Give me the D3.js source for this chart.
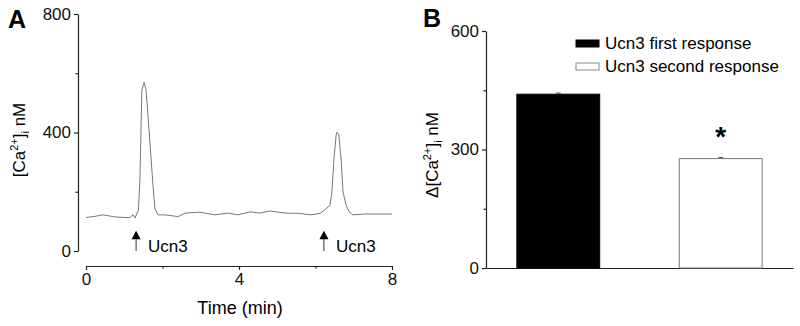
<!DOCTYPE html>
<html lang="en">
<head>
<meta charset="UTF-8">
<title>Ucn3 calcium responses</title>
<script src="https://d3js.org/d3.v7.min.js"></script>
<style>
  body { margin: 0; background: #fff; }
  svg { display: block; font-family: Arial, "Liberation Sans", sans-serif; }
  .axis path, .axis line { stroke: #222; stroke-width: 1.2; }
  .axis text { font-size: 17px; fill: #111; }
</style>
</head>
<body>
<svg id="chart" width="800" height="326"></svg>
<script>
// ---- data, panel A (trace) ----
const traceTime = [0, 0.24, 0.44, 0.76, 1.02, 1.15, 1.23, 1.28, 1.37, 1.41, 1.46, 1.52, 1.57, 1.62, 1.67, 1.75, 1.80, 1.88,
  2.07, 2.41, 2.59, 2.98, 3.37, 3.71, 3.97, 4.29, 4.55, 4.81, 5.20, 5.59, 5.88, 6.12, 6.27, 6.38, 6.43, 6.48, 6.54, 6.56,
  6.61, 6.67, 6.72, 6.80, 6.88, 6.98, 7.29, 7.69, 8.0];
const traceCa = [113, 117, 122, 115, 113, 113, 122, 111, 138, 240, 543, 569, 543, 459, 368, 223, 145, 122,
  122, 116, 128, 131, 122, 128, 122, 132, 128, 135, 128, 127, 122, 127, 142, 155, 199, 307, 392, 401,
  392, 307, 199, 155, 132, 122, 125, 125, 125];
const stimTimes = [1.31, 6.22];
const stimLabels = ["Ucn3", "Ucn3"];
const aYTicks = [0, 400, 800];
const aYMinor = [200, 600];
const aXTicks = [0, 4, 8];
const aXMinor = [2, 6];

// ---- data, panel B (bars) ----
const groups = ["Ucn3 first response", "Ucn3 second response"];
const means = [440, 277];
const sems = [3, 3];
const barFills = ["#000", "#fff"];
const bYTicks = [0, 300, 600];
const bYMinor = [150, 450];

const svg = d3.select("#chart");

// ================= Panel A =================
const xA = d3.scaleLinear().domain([0, 8]).range([86, 392]);
const yA = d3.scaleLinear().domain([0, 800]).range([251, 14]);

svg.append("g").attr("class", "axis")
  .attr("transform", "translate(78,0)")
  .call(d3.axisLeft(yA).tickValues(aYTicks).tickSize(4).tickPadding(3).tickSizeOuter(0));
svg.append("g").attr("class", "axis")
  .attr("transform", "translate(78,0)")
  .call(d3.axisLeft(yA).tickValues(aYMinor).tickSize(2.5).tickFormat("").tickSizeOuter(0))
  .select(".domain").remove();

svg.append("g").attr("class", "axis")
  .attr("transform", "translate(0,266)")
  .call(d3.axisBottom(xA).tickValues(aXTicks).tickSize(4).tickPadding(3).tickSizeOuter(0));
svg.append("g").attr("class", "axis")
  .attr("transform", "translate(0,266)")
  .call(d3.axisBottom(xA).tickValues(aXMinor).tickSize(2.5).tickFormat("").tickSizeOuter(0))
  .select(".domain").remove();

svg.append("text")
  .attr("x", 240).attr("y", 314)
  .attr("text-anchor", "middle")
  .attr("font-size", 18)
  .text("Time (min)");

// y label with super/subscripts
const yLabA = svg.append("text")
  .attr("transform", "translate(25,140) rotate(-90)")
  .attr("text-anchor", "middle")
  .attr("font-size", 17);
yLabA.append("tspan").text("[Ca");
yLabA.append("tspan").attr("dy", -7).attr("font-size", 11).text("2+");
yLabA.append("tspan").attr("dy", 7).text("]");
yLabA.append("tspan").attr("dy", 4).attr("font-size", 11).text("i");
yLabA.append("tspan").attr("dy", -4).text(" nM");

const trace = traceTime.map((t, i) => [t, traceCa[i]]);
svg.append("path")
  .datum(trace)
  .attr("fill", "none")
  .attr("stroke", "#777")
  .attr("stroke-width", 1)
  .attr("d", d3.line().x(d => xA(d[0])).y(d => yA(d[1])));

// stimulus arrows
stimTimes.forEach((t, i) => {
  const x = xA(t);
  svg.append("line")
    .attr("x1", x).attr("x2", x)
    .attr("y1", yA(0)).attr("y2", yA(40))
    .attr("stroke", "#333").attr("stroke-width", 1);
  svg.append("path")
    .attr("d", `M${x},${yA(68)} L${x - 4.5},${yA(40)} L${x + 4.5},${yA(40)} Z`)
    .attr("fill", "#000");
  svg.append("text")
    .attr("x", x + 12).attr("y", yA(0) + 1)
    .attr("font-size", 17)
    .text(stimLabels[i]);
});

svg.append("text")
  .attr("x", 8).attr("y", 28)
  .attr("font-size", 25).attr("font-weight", "bold")
  .text("A");

// ================= Panel B =================
const xB = d3.scaleBand().domain(groups).range([486, 793]).paddingInner(0.49).paddingOuter(0.19);
const yB = d3.scaleLinear().domain([0, 600]).range([268, 31]);

svg.append("g").attr("class", "axis")
  .attr("transform", "translate(486,0)")
  .call(d3.axisLeft(yB).tickValues(bYTicks).tickSize(4).tickPadding(3).tickSizeOuter(0));
svg.append("g").attr("class", "axis")
  .attr("transform", "translate(486,0)")
  .call(d3.axisLeft(yB).tickValues(bYMinor).tickSize(2.5).tickFormat("").tickSizeOuter(0))
  .select(".domain").remove();

svg.append("g").attr("class", "axis")
  .attr("transform", "translate(0,268)")
  .call(d3.axisBottom(xB).tickValues([]).tickSizeOuter(0));

svg.selectAll("rect.bar")
  .data(groups)
  .enter().append("rect")
  .attr("class", "bar")
  .attr("x", d => xB(d))
  .attr("y", (d, i) => yB(means[i]))
  .attr("width", xB.bandwidth())
  .attr("height", (d, i) => yB(0) - yB(means[i]))
  .attr("fill", (d, i) => barFills[i])
  .attr("stroke", (d, i) => i === 0 ? "#000" : "#777")
  .attr("stroke-width", 1);

// error bars (upper half only)
groups.forEach((g, i) => {
  const cx = xB(g) + xB.bandwidth() / 2;
  svg.append("line")
    .attr("x1", cx).attr("x2", cx)
    .attr("y1", yB(means[i])).attr("y2", yB(means[i] + sems[i]))
    .attr("stroke", "#555");
  svg.append("line")
    .attr("x1", cx - 2.5).attr("x2", cx + 2.5)
    .attr("y1", yB(means[i] + sems[i])).attr("y2", yB(means[i] + sems[i]))
    .attr("stroke", "#555");
});

// significance mark
svg.append("text")
  .attr("x", xB(groups[1]) + xB.bandwidth() / 2).attr("y", 146)
  .attr("text-anchor", "middle")
  .attr("font-size", 28).attr("font-weight", "bold")
  .text("*");

const yLabB = svg.append("text")
  .attr("transform", "translate(438,155) rotate(-90)")
  .attr("text-anchor", "middle")
  .attr("font-size", 17);
yLabB.append("tspan").text("\u0394[Ca");
yLabB.append("tspan").attr("dy", -7).attr("font-size", 11).text("2+");
yLabB.append("tspan").attr("dy", 7).text("]");
yLabB.append("tspan").attr("dy", 4).attr("font-size", 11).text("i");
yLabB.append("tspan").attr("dy", -4).text(" nM");

// legend
const legend = svg.append("g");
groups.forEach((g, i) => {
  const y = 40 + i * 23;
  legend.append("rect")
    .attr("x", 576).attr("y", y)
    .attr("width", 23).attr("height", 7)
    .attr("fill", barFills[i])
    .attr("stroke", i === 0 ? "#000" : "#888");
  legend.append("text")
    .attr("x", 605).attr("y", y + 8.5)
    .attr("font-size", 17)
    .text(g);
});

svg.append("text")
  .attr("x", 423).attr("y", 27)
  .attr("font-size", 25).attr("font-weight", "bold")
  .text("B");
</script>
</body>
</html>
